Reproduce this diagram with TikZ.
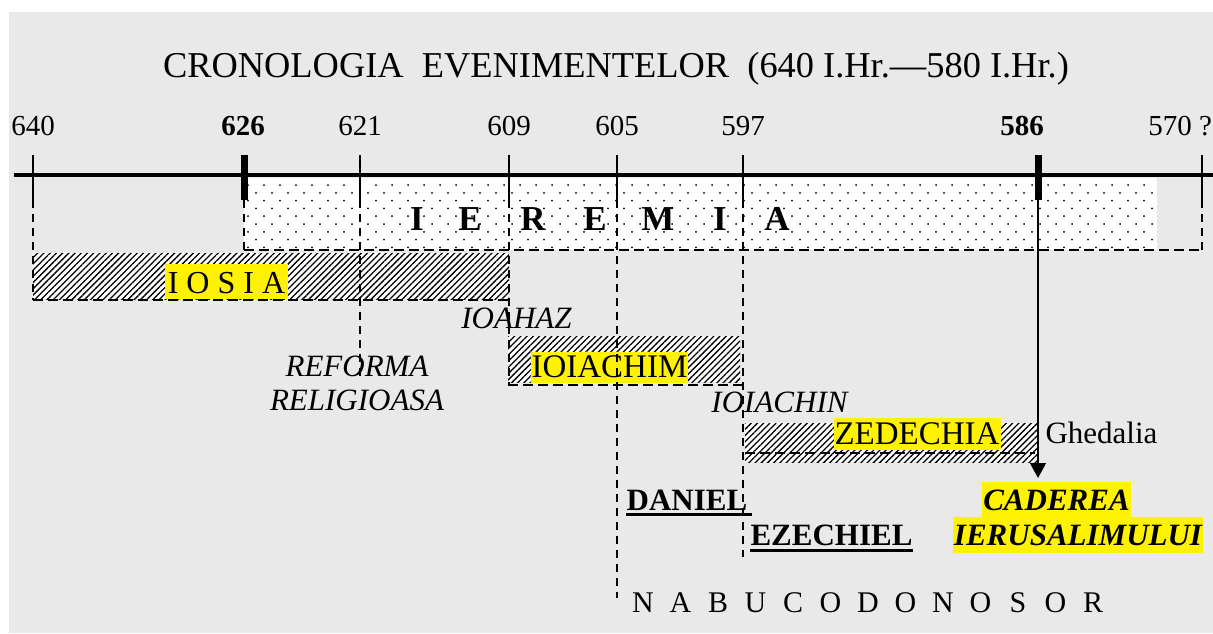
\documentclass[tikz,border=0pt]{standalone}
\usepackage{fontspec}
\setmainfont{Liberation Serif}
\usetikzlibrary{arrows.meta,patterns.meta}
\definecolor{bggray}{RGB}{233,233,233}

\begin{document}
\begin{tikzpicture}[x=0.5pt,y=-0.5pt,
	yr/.style={font=\fontsize{14.5}{17}\selectfont,anchor=base,inner sep=0pt},
	vdash/.style={dash pattern=on 4pt off 3pt,line width=1.1pt},
	bdash/.style={dash pattern=on 5pt off 2.5pt,line width=1.4pt},
	hatch/.style={preaction={fill=white},pattern={Lines[angle=45,distance=2.2pt,line width=0.65pt]}},
	hl/.style={fill=yellow,inner xsep=0.5pt,inner ysep=0pt,anchor=base,text height=13pt,text depth=3pt},
	king/.style={font=\fontsize{16.5}{19}\selectfont},
	lbl/.style={font=\fontsize{15.5}{17}\selectfont\itshape,anchor=base,inner sep=0pt,align=center},
	prophet/.style={font=\fontsize{15.5}{17}\selectfont\bfseries,anchor=base,inner sep=0pt},
	uline/.style={line width=1.4pt}]
	\useasboundingbox (0,0) rectangle (1213,633);
	\fill[bggray] (9,12) rectangle (1213,633);
	
	\node[anchor=base,font=\fontsize{18.2}{21}\selectfont] (title) at (616,77) {CRONOLOGIA\ \ EVENIMENTELOR\ \ (640 I.Hr.---580 I.Hr.)};
	
	%IEREMIA
	\begin{scope}
		\clip (244,178) rectangle (1157,250);
		\fill[white] (244,178) rectangle (1157,250);
		\foreach \r in {0,...,8}
		\foreach \c in {0,...,57}
		\fill ({248+16*\c+8*mod(\r,2)},{185+7.8*\r}) circle (0.5pt);
	\end{scope}
	\foreach \l/\x [count=\i] in {I/417,E/470,R/533,E/595,M/658,I/720,A/777}
	\node[anchor=base,font=\fontsize{17.5}{20}\selectfont\bfseries] (jer\i) at (\x,230) {\l};
	\draw[vdash] (244,200) -- (244,250);
	\draw[bdash] (244,250) -- (1202,250);
	\draw[vdash] (1202,200) -- (1202,250);
	
	%AXIS
	\draw[line width=2pt] (14,175) -- (1213,175);
	\foreach \x/\yr in {33/640,360/621,509/609,617/605,743/597,1202/570}
	\draw[line width=1.4pt] (\x,155) -- (\x,200);
	\foreach \x/\yr in {33/640,360/621,509/609,617/605,743/597}
	\node[yr] (y\yr) at (\x,135) {\yr};
	\node[yr,anchor=base west] (y570) at (1148,135) {570 ?};
	\draw[line width=3.5pt] (244,155) -- (244,200);
	\draw[line width=3.5pt] (1038,155) -- (1038,200);
	\node[yr] (y626) at (243,135) {\bfseries 626};
	\node[yr] (y586) at (1022,135) {\bfseries 586};
	
	%KINGS
	\fill[hatch] (33,253) rectangle (509,299);
	\draw[bdash] (33,300) -- (509,300);
	\draw[vdash] (33,200) -- (33,300);
	\node[hl,king,text height=14.5pt,inner xsep=1.5pt,font=\fontsize{16}{19}\selectfont] (iosia) at (226.5,293) {I O S I A};
	
	\node[lbl] (ioahaz) at (516.5,328) {IOAHAZ};
	\fill[hatch] (508,336) rectangle (740,382);
	\draw[bdash] (508,385) -- (745,385);
	\node[hl,king,text height=12.5pt] (ioiachim) at (609.5,377) {IOIACHIM};
	
	\node[lbl] (reforma) at (357,410) {REFORMA\\RELIGIOASA};
	
	\node[lbl] (ioiachin) at (779.5,412) {IOIACHIN};
	\fill[hatch] (745,423) rectangle (1038,462);
	\draw[bdash] (745,453) -- (1035,453);
	\node[hl,king] (zedechia) at (917,444) {ZEDECHIA};
	\node[anchor=base,inner sep=0pt,font=\fontsize{15.5}{17}\selectfont] (ghedalia) at (1101.5,443) {Ghedalia};
	
	%PROPHETS
	\node[prophet] (daniel) at (687,510) {DANIEL};
	\draw[uline] ([yshift=-2.2pt]daniel.base west) -- ([yshift=-2.2pt,xshift=2pt]daniel.base east);
	\node[prophet] (ezechiel) at (831.5,545) {EZECHIEL};
	\draw[uline] ([yshift=-2.7pt]ezechiel.base west) -- ([yshift=-2.7pt]ezechiel.base east);
	
	\node[hl,font=\fontsize{15.5}{17}\selectfont\bfseries\itshape,text height=14pt,text depth=3.5pt] (caderea) at (1056.5,510) {CADEREA};
	\node[hl,font=\fontsize{15.5}{17}\selectfont\bfseries\itshape,text height=14pt,text depth=4pt] (ierusalim) at (1078,545) {IERUSALIMULUI};
	
	\foreach \l [count=\i from 0] in {N,A,B,U,C,O,D,O,N,O,S,O,R}
	\node[anchor=base,inner sep=0pt,font=\fontsize{15}{17}\selectfont] (nab\i) at ({643+37.5*\i},612) {\l};
	
	%LINES
	\draw[vdash] (509,200) -- (509,385);
	\draw[vdash] (360,200) -- (360,380);
	\draw[vdash] (617,200) -- (617,598);
	\draw[vdash] (743,200) -- (743,557);
	\coordinate (fall) at (1038,478);
	\draw[line width=0.6pt,-{Triangle[length=7.5pt,width=8pt]}] (1038,200) -- (fall);
\end{tikzpicture}
\end{document}
